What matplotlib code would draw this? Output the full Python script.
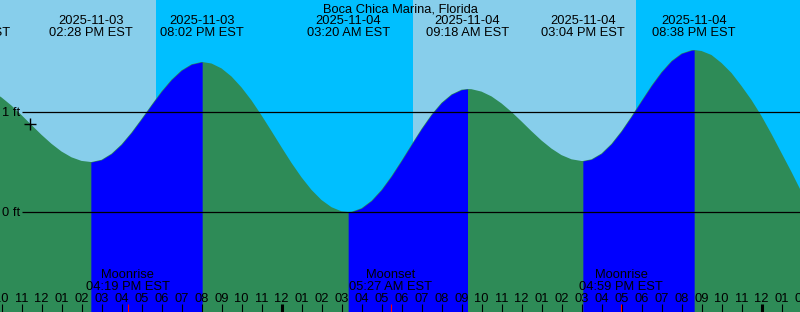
import numpy as np
import matplotlib.pyplot as plt
from matplotlib.transforms import blended_transform_factory

# hours counted from 2025-11-03 10:00 AM EST
# tide extremes (time, height in ft, label)
tide_hours = [-1.667, 4.467, 10.033, 17.333, 23.3, 29.067, 34.633]
tide_heights = [1.28, 0.50, 1.50, 0.00, 1.23, 0.51, 1.62]
tide_labels = ["2025-11-03\n08:20 AM EST", "2025-11-03\n02:28 PM EST",
               "2025-11-03\n08:02 PM EST", "2025-11-04\n03:20 AM EST",
               "2025-11-04\n09:18 AM EST", "2025-11-04\n03:04 PM EST",
               "2025-11-04\n08:38 PM EST"]

# tide height read every half hour, from 09:00 AM Nov 3 to 02:00 AM Nov 5
hour_marks = list(np.arange(-1, 40.5, 0.5))
hour_heights = [1.257, 1.212, 1.146, 1.064, 0.969, 0.870, 0.772, 0.682, 0.605, 0.547,
                0.511, 0.500, 0.522, 0.583, 0.676, 0.795, 0.930, 1.070, 1.206, 1.324,
                1.417, 1.477, 1.500, 1.485, 1.436, 1.355, 1.246, 1.116, 0.967, 0.809,
                0.648, 0.491, 0.347, 0.221, 0.120, 0.048, 0.007, 0.002, 0.038, 0.113,
                0.222, 0.359, 0.513, 0.674, 0.831, 0.974, 1.092, 1.176, 1.223, 1.228,
                1.204, 1.156, 1.086, 1.001, 0.906, 0.808, 0.715, 0.634, 0.569, 0.527,
                0.510, 0.527, 0.585, 0.682, 0.809, 0.956, 1.112, 1.264, 1.400, 1.511,
                1.585, 1.618, 1.610, 1.570, 1.490, 1.390, 1.260, 1.120, 0.960, 0.780,
                0.590, 0.400, 0.200]

# sun: sunset, sunrise, sunset
sun_hours = [7.7, 20.55, 31.7]

# moon events
moon_hours = [6.317, 19.45, 30.983]
moon_labels = ["Moonrise\n04:19 PM EST", "Moonset\n05:27 AM EST", "Moonrise\n04:59 PM EST"]

now_hour = 1.425

title = "Boca Chica Marina, Florida"

day_col = "#87CEEB"
night_col = "#00BFFF"
fall_col = "#2E8B57"
rise_col = "#0000FF"

W, H = 800, 312
x0, x1 = -0.075, 39.925
y0, y1 = -1.0, 2.12


def py(p):
    # pixel row from top -> axes fraction
    return 1 - p / H


plt.rcParams['font.family'] = ['Liberation Sans', 'DejaVu Sans']
fs = 9.3

fig = plt.figure(figsize=(W / 100, H / 100), dpi=100)
ax = fig.add_axes([0, 0, 1, 1])
ax.set_xlim(x0, x1)
ax.set_ylim(y0, y1)
ax.axis('off')

# day / night background
edges = [x0 - 1] + sun_hours + [x1 + 1]
for i in range(len(edges) - 1):
    ax.axvspan(edges[i], edges[i + 1], color=day_col if i % 2 == 0 else night_col, lw=0)

# tide curve
t = np.array(hour_marks + tide_hours, dtype=float)
h = np.array(hour_heights + tide_heights, dtype=float)
order = np.argsort(t)
t, h = t[order], h[order]

ax.fill_between(t, h, y0, color=fall_col, lw=0)
for i in range(len(tide_hours) - 1):
    if tide_heights[i] < tide_heights[i + 1]:
        m = (t >= tide_hours[i]) & (t <= tide_hours[i + 1])
        ax.fill_between(t[m], h[m], y0, color=rise_col, lw=0)

# height lines
for lvl, base in [(1, 116), (0, 216.5)]:
    ax.hlines(lvl, (22 - 1.5) / 20, x1, color="black", lw=0.9)
    ax.text(2 / W, py(base), f"{lvl} ft", transform=ax.transAxes, fontsize=fs,
            ha="left", va="baseline")

# current time marker
ax.plot([now_hour], [np.interp(now_hour, t, h)], marker="+", color="black",
        ms=9, mew=1)

# top labels
trans_xa = blended_transform_factory(ax.transData, ax.transAxes)
ax.text(0.5, py(12), title, transform=ax.transAxes, fontsize=fs,
        ha="center", va="baseline")
for th, lab in zip(tide_hours, tide_labels):
    d, tm = lab.split("\n")
    ax.text(th, py(24), d, transform=trans_xa, fontsize=fs, ha="center", va="baseline")
    ax.text(th, py(36), tm, transform=trans_xa, fontsize=fs, ha="center", va="baseline")

# moon labels
for mh, lab in zip(moon_hours, moon_labels):
    a, b = lab.split("\n")
    ax.text(mh, py(278.5), a, transform=trans_xa, fontsize=fs, ha="center", va="baseline")
    ax.text(mh, py(290), b, transform=trans_xa, fontsize=fs, ha="center", va="baseline")

# hour ticks and labels
tick_top = y0 + (y1 - y0) * 8 / H
for k in range(0, 41):
    hr = (10 + k) % 24
    lab = "%02d" % (hr % 12 if hr % 12 else 12)
    ax.text(k, py(301.5), lab, transform=trans_xa, fontsize=fs, ha="center", va="baseline")
    ax.vlines(k, y0, tick_top, color="black", lw=2.2 if hr == 0 else 0.8)
ax.vlines(moon_hours, y0, tick_top, color="red", lw=0.8)

fig.savefig("out.png", dpi=100)
